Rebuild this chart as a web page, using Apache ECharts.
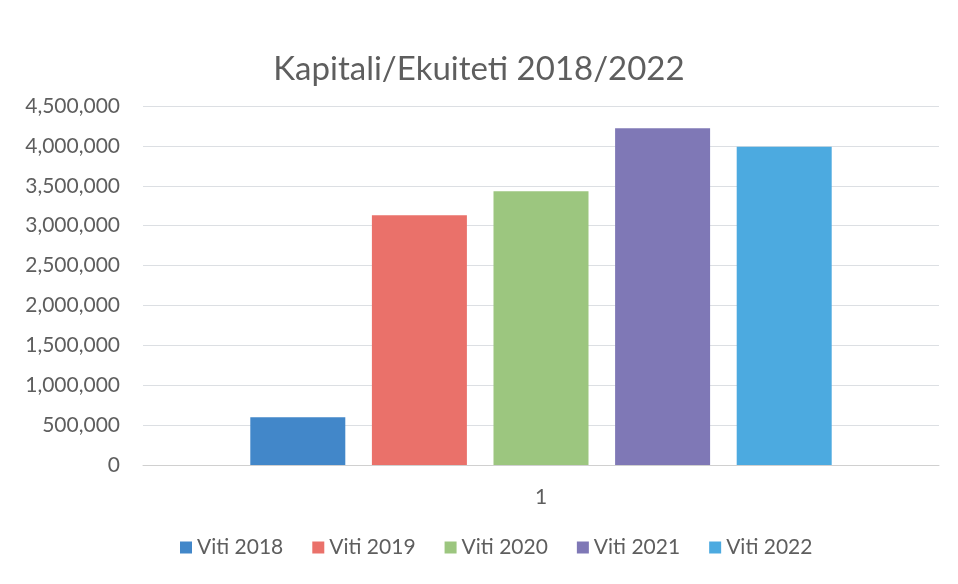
<!DOCTYPE html>
<html>
<head>
<meta charset="utf-8">
<script src="https://cdn.jsdelivr.net/npm/echarts@6/dist/echarts.min.js"></script>
<style>
html,body{margin:0;padding:0;background:#fff;}
#c{width:958px;height:584px;}
</style>
</head>
<body>
<div id="c"></div>
<script>
const titleText = 'Kapitali/Ekuiteti 2018/2022';
const categories = ['1'];
const seriesNames = ['Viti 2018', 'Viti 2019', 'Viti 2020', 'Viti 2021', 'Viti 2022'];
const values2018 = [600000];
const values2019 = [3130000];
const values2020 = [3430000];
const values2021 = [4220000];
const values2022 = [3990000];
const yTicks = [0, 500000, 1000000, 1500000, 2000000, 2500000, 3000000, 3500000, 4000000, 4500000];
const colors = ['#4287c9', '#ea716a', '#9cc67f', '#7f78b6', '#4caae0'];

const allValues = [values2018, values2019, values2020, values2021, values2022];
const FONT = 'Lato, "Open Sans", sans-serif';

const chart = echarts.init(document.getElementById('c'), null, {renderer: 'canvas'});
chart.setOption({
  animation: false,
  backgroundColor: '#ffffff',
  color: colors,
  title: {
    text: titleText,
    left: 'center',
    top: 48,
    textStyle: {fontFamily: FONT, fontSize: 33, fontWeight: 'normal', color: '#5e5e5e'}
  },
  legend: {
    bottom: 21,
    left: 175,
    itemWidth: 12,
    itemHeight: 12,
    itemGap: 29,
    icon: 'rect',
    textStyle: {fontFamily: FONT, fontSize: 21, color: '#5e5e5e'},
    data: seriesNames
  },
  grid: {left: 143, right: 19, top: 106, bottom: 119, containLabel: false},
  xAxis: {
    type: 'category',
    data: categories,
    axisLine: {lineStyle: {color: '#d0d0d0'}},
    axisTick: {show: false},
    axisLabel: {fontFamily: FONT, fontSize: 21, color: '#5e5e5e', margin: 22}
  },
  yAxis: {
    type: 'value',
    min: yTicks[0],
    max: yTicks[yTicks.length - 1],
    interval: 500000,
    axisLine: {show: false},
    axisTick: {show: false},
    splitLine: {lineStyle: {color: '#dcdfe3'}},
    axisLabel: {
      fontFamily: FONT, fontSize: 21, color: '#5e5e5e', margin: 23,
      formatter: v => v.toLocaleString('en-US')
    }
  },
  series: seriesNames.map((n, i) => ({
    name: n,
    type: 'bar',
    data: allValues[i],
    barWidth: 95,
    barGap: '28%'
  }))
});
</script>
</body>
</html>
